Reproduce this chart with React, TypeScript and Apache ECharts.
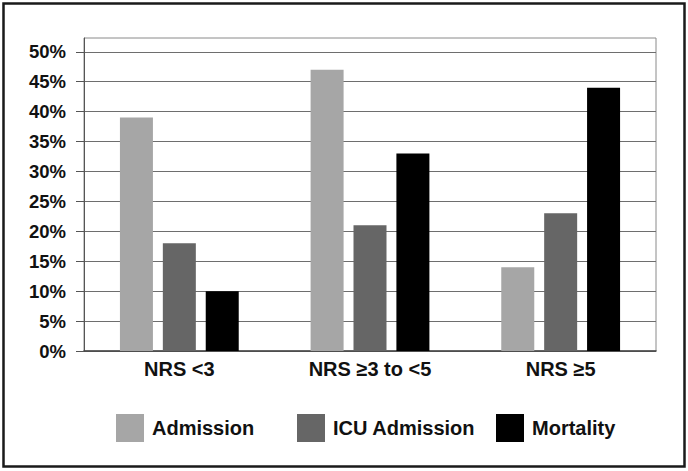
import React, { useEffect, useRef } from "react";
import * as echarts from "echarts";

const categories = ["NRS <3", "NRS ≥3 to <5", "NRS ≥5"];
const seriesNames = ["Admission", "ICU Admission", "Mortality"];
const admission = [39, 47, 14];
const icuAdmission = [18, 21, 23];
const mortality = [10, 33, 44];
const yTicks = [0, 5, 10, 15, 20, 25, 30, 35, 40, 45, 50];
const colors = ["#a6a6a6", "#666666", "#000000"];

const FONT = "'Liberation Sans', Arial, Helvetica, sans-serif";

export default function App() {
  const ref = useRef<HTMLDivElement>(null);
  useEffect(() => {
    document.body.style.margin = "0";
    const chart = echarts.init(ref.current!, null, { renderer: "svg" });
    const values = [admission, icuAdmission, mortality];
    const legendLefts = [116, 297, 496];
    chart.setOption({
      animation: false,
      backgroundColor: "#ffffff",
      textStyle: { fontFamily: FONT },
      graphic: [
        {
          type: "rect",
          shape: { x: 3.5, y: 3.5, width: 681, height: 463 },
          style: { fill: "none", stroke: "#1a1a1a", lineWidth: 2.5 },
          silent: true,
        },
      ],
      grid: {
        left: 84,
        right: 32,
        top: 38,
        bottom: 120,
        show: true,
        borderColor: "#8a8a8a",
        borderWidth: 1,
      },
      legend: seriesNames.map((n, i) => ({
        data: [n],
        left: legendLefts[i],
        top: 414,
        padding: 0,
        itemWidth: 28,
        itemHeight: 28,
        icon: "rect",
        textStyle: {
          fontFamily: FONT,
          fontSize: 20,
          fontWeight: "bold",
          color: "#111",
          padding: [0, 0, 0, 3],
        },
        selectedMode: false,
      })),
      xAxis: {
        type: "category",
        data: categories,
        axisLine: { lineStyle: { color: "#444", width: 1.5 } },
        axisTick: { show: false },
        axisLabel: {
          fontFamily: FONT,
          fontSize: 20,
          fontWeight: "bold",
          color: "#111",
          margin: 8,
        },
      },
      yAxis: {
        type: "value",
        min: 0,
        max: 52.3,
        interval: 5,
        axisLine: { show: true, lineStyle: { color: "#555", width: 1 } },
        axisTick: {
          show: true,
          length: 8,
          customValues: yTicks,
          lineStyle: { color: "#555" },
        },
        axisLabel: {
          customValues: yTicks,
          formatter: (v: number) => v + "%",
          fontFamily: FONT,
          fontSize: 18.5,
          fontWeight: "bold",
          color: "#111",
          margin: 18,
        },
        splitLine: { show: true, lineStyle: { color: "#6e6e6e", width: 1.2 } },
      },
      series: seriesNames.map((n, i) => ({
        name: n,
        type: "bar",
        data: values[i],
        barWidth: 33,
        barGap: "30%",
        itemStyle: { color: colors[i] },
      })),
    });
    return () => chart.dispose();
  }, []);
  return <div ref={ref} style={{ width: 688, height: 471 }} />;
}
